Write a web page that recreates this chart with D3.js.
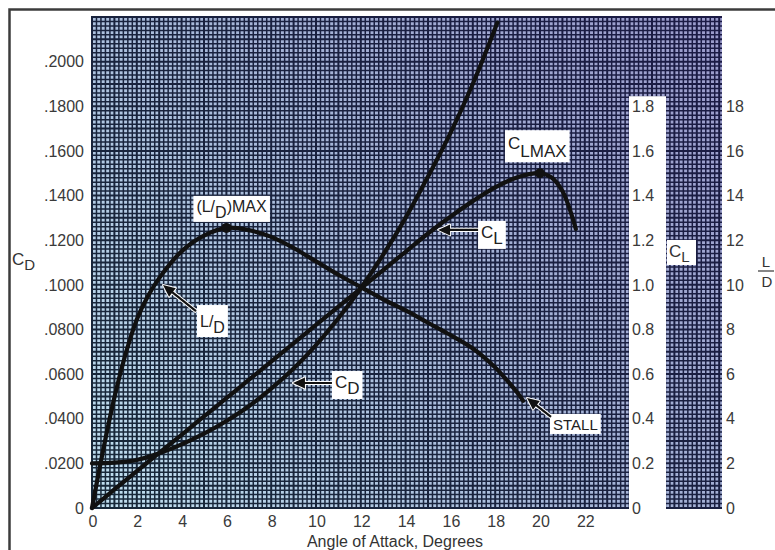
<!DOCTYPE html>
<html>
<head>
<meta charset="utf-8">
<script src="https://cdn.jsdelivr.net/npm/d3@7"></script>
<style>
  html, body { margin: 0; padding: 0; background: #fff; overflow: hidden; }
  svg { display: block; font-family: "Liberation Sans", Arial, sans-serif; }
</style>
</head>
<body>
<svg id="chart" width="775" height="550"></svg>
<script>
// ---------------- Data ----------------
// lift coefficient vs angle of attack
const clAlpha  = [0, 1, 2, 3, 4, 5, 6, 7, 8, 9, 10, 11, 12, 13, 14, 15, 16, 17, 18, 19, 20, 20.5, 21, 21.6];
const clValues = [0, 0.083, 0.165, 0.247, 0.328, 0.41, 0.492, 0.574, 0.656, 0.738, 0.82, 0.902, 0.984, 1.066, 1.148, 1.23, 1.305, 1.375, 1.437, 1.482, 1.50, 1.482, 1.42, 1.25];

// drag coefficient
const cdAlpha  = [0, 1, 2, 3, 4, 5, 6, 7, 8, 9, 10, 11, 12, 13, 14, 15, 16, 17, 18.1];
const cdValues = [0.0200, 0.0203, 0.0215, 0.0245, 0.0285, 0.0333, 0.0390, 0.0456, 0.0535, 0.0625, 0.0730, 0.0850, 0.0985, 0.1135, 0.1300, 0.1485, 0.1680, 0.1900, 0.2175];

// lift / drag ratio
const ldAlpha  = [0, 0.5, 1, 1.5, 2, 2.5, 3, 4, 5, 6, 7, 8, 9, 10, 11, 12, 13, 14, 15, 16, 17, 18, 18.5, 19, 19.25];
const ldValues = [0, 2.6, 4.95, 6.9, 8.45, 9.5, 10.3, 11.5, 12.2, 12.55, 12.45, 12.15, 11.65, 11.05, 10.45, 9.9, 9.35, 8.85, 8.3, 7.75, 7.15, 6.3, 5.75, 5.15, 4.8];

// tick labels
const xTicks   = [0, 2, 4, 6, 8, 10, 12, 14, 16, 18, 20, 22];
const cdTicks  = [0, 0.02, 0.04, 0.06, 0.08, 0.10, 0.12, 0.14, 0.16, 0.18, 0.20];
const clTicks  = [0, 0.2, 0.4, 0.6, 0.8, 1.0, 1.2, 1.4, 1.6, 1.8];
const ldTicks  = [0, 2, 4, 6, 8, 10, 12, 14, 16, 18];

// ---------------- Scales ----------------
const svg = d3.select("#chart");

const plotLeft = 92, plotBottom = 508, plotTop = 17;
const x   = d3.scaleLinear().domain([0, 24]).range([plotLeft, 629.6]);
const yCD = d3.scaleLinear().domain([0, 0.22]).range([plotBottom, plotTop]);
const yCL = d3.scaleLinear().domain([0, 2.2]).range([plotBottom, plotTop]);
const yLD = d3.scaleLinear().domain([0, 22]).range([plotBottom, plotTop]);

const gridRight = 722;   // grid continues past the CL label strip
const stripLeft = 629, stripRight = 666;

// ---------------- Frame ----------------
svg.append("rect")
  .attr("x", 9.5).attr("y", 9.5)
  .attr("width", 820).attr("height", 620)
  .attr("fill", "none")
  .attr("stroke", "#3c3c3c")
  .attr("stroke-width", 2.5);

// ---------------- Graph paper ----------------
const defs = svg.append("defs");
const bg = defs.append("linearGradient")
  .attr("id", "paper")
  .attr("gradientUnits", "userSpaceOnUse")
  .attr("x1", plotLeft).attr("y1", plotBottom)
  .attr("x2", gridRight).attr("y2", 16);
bg.append("stop").attr("offset", 0).attr("stop-color", "#c0e0f0");
bg.append("stop").attr("offset", 0.5).attr("stop-color", "#a6b6d8");
bg.append("stop").attr("offset", 1).attr("stop-color", "#9a9acb");

const ink = defs.append("linearGradient")
  .attr("id", "ink")
  .attr("gradientUnits", "userSpaceOnUse")
  .attr("x1", plotLeft).attr("y1", plotBottom)
  .attr("x2", gridRight).attr("y2", 16);
ink.append("stop").attr("offset", 0).attr("stop-color", "#172838");
ink.append("stop").attr("offset", 1).attr("stop-color", "#1b1a45");

defs.append("clipPath").attr("id", "gridClip")
  .append("rect")
  .attr("x", plotLeft - 1).attr("y", 16)
  .attr("width", gridRight - plotLeft + 1).attr("height", plotBottom - 16 + 1);

const grid = svg.append("g").attr("clip-path", "url(#gridClip)");
grid.append("rect")
  .attr("x", plotLeft - 1).attr("y", 16)
  .attr("width", gridRight - plotLeft + 1).attr("height", plotBottom - 16 + 1)
  .attr("fill", "url(#paper)");

const vLines = d3.range(0, 141).map(i => i / 5);      // every 0.2 degree
const hLines = d3.range(0, 111).map(i => i / 500);    // every 0.002 CD

grid.append("g")
  .selectAll("line")
  .data(vLines)
  .enter()
  .append("line")
  .attr("x1", d => x(d)).attr("x2", d => x(d))
  .attr("y1", 16).attr("y2", plotBottom + 1)
  .attr("stroke", "url(#ink)")
  .attr("stroke-width", (d, i) => i % 5 === 0 ? 2 : 1.5);

grid.append("g")
  .selectAll("line")
  .data(hLines)
  .enter()
  .append("line")
  .attr("x1", plotLeft - 1).attr("x2", gridRight)
  .attr("y1", d => yCD(d)).attr("y2", d => yCD(d))
  .attr("stroke", "url(#ink)")
  .attr("stroke-width", (d, i) => i % 5 === 0 ? 2 : 1.5);

// white strip holding the CL scale
svg.append("rect")
  .attr("x", stripLeft).attr("y", yCL(1.845))
  .attr("width", stripRight - stripLeft).attr("height", 60 + plotBottom)
  .attr("fill", "#fff");
svg.append("rect")
  .attr("x", plotLeft - 1).attr("y", plotBottom + 1)
  .attr("width", 700).attr("height", 30)
  .attr("fill", "#fff");

// ---------------- Axes labels ----------------
const tickFont = 16;

svg.append("g")
  .selectAll("text")
  .data(cdTicks)
  .enter()
  .append("text")
  .attr("x", 84)
  .attr("y", d => yCD(d))
  .attr("dy", "0.36em")
  .attr("text-anchor", "end")
  .attr("font-size", tickFont)
  .attr("fill", "#3a3a3a")
  .text(d => d === 0 ? "0" : d3.format(".4f")(d).replace(/^0/, ""));

svg.append("g")
  .selectAll("text")
  .data(xTicks)
  .enter()
  .append("text")
  .attr("x", d => x(d) + 1)
  .attr("y", plotBottom + 19)
  .attr("text-anchor", "middle")
  .attr("font-size", tickFont)
  .attr("fill", "#3a3a3a")
  .text(d => d);

svg.append("g")
  .selectAll("text")
  .data(clTicks)
  .enter()
  .append("text")
  .attr("x", stripLeft + 3)
  .attr("y", d => yCL(d))
  .attr("dy", "0.36em")
  .attr("font-size", tickFont)
  .attr("fill", "#3a3a3a")
  .text(d => d === 0 ? "0" : d3.format(".1f")(d));

svg.append("g")
  .selectAll("text")
  .data(ldTicks)
  .enter()
  .append("text")
  .attr("x", gridRight + 4)
  .attr("y", d => yLD(d))
  .attr("dy", "0.36em")
  .attr("font-size", tickFont)
  .attr("fill", "#3a3a3a")
  .text(d => d);

svg.append("text")
  .attr("x", 395)
  .attr("y", 546.5)
  .attr("text-anchor", "middle")
  .attr("font-size", 16)
  .attr("fill", "#333")
  .text("Angle of Attack, Degrees");

// C_D on the left
const cdLabel = svg.append("text")
  .attr("x", 12).attr("y", 265)
  .attr("font-size", 17).attr("fill", "#333");
cdLabel.append("tspan").text("C");
cdLabel.append("tspan").attr("dy", 5).attr("font-size", 15).text("D");

// C_L box on the right grid column
const clBox = svg.append("g");
clBox.append("rect")
  .attr("x", 667).attr("y", 240)
  .attr("width", 29).attr("height", 25)
  .attr("fill", "#fff");
const clLabel = clBox.append("text")
  .attr("x", 669).attr("y", 257)
  .attr("font-size", 17).attr("fill", "#333");
clLabel.append("tspan").text("C");
clLabel.append("tspan").attr("dy", 5).attr("font-size", 15).text("L");

// L over D on the far right
svg.append("text")
  .attr("x", 766).attr("y", 267)
  .attr("text-anchor", "middle")
  .attr("font-size", 15).attr("fill", "#333")
  .text("L");
svg.append("line")
  .attr("x1", 758).attr("x2", 774)
  .attr("y1", 271).attr("y2", 271)
  .attr("stroke", "#444").attr("stroke-width", 1.3);
svg.append("text")
  .attr("x", 767).attr("y", 287)
  .attr("text-anchor", "middle")
  .attr("font-size", 15).attr("fill", "#333")
  .text("D");

// ---------------- Curves ----------------
function curve(xs, ys, yScale) {
  const pts = xs.map((a, i) => [x(a), yScale(ys[i])]);
  return d3.line().curve(d3.curveCatmullRom.alpha(0.5))(pts);
}

const curves = svg.append("g")
  .attr("fill", "none")
  .attr("stroke", "#111")
  .attr("stroke-width", 4.2)
  .attr("stroke-linecap", "round");

curves.append("path").attr("d", curve(cdAlpha, cdValues, yCD));
curves.append("path").attr("d", curve(clAlpha, clValues, yCL));
curves.append("path").attr("d", curve(ldAlpha, ldValues, yLD));

// max markers
const ldMax = { alpha: 6, value: 12.55 };
const clMax = { alpha: 20, value: 1.50 };
svg.append("circle").attr("cx", x(ldMax.alpha)).attr("cy", yLD(ldMax.value)).attr("r", 5).attr("fill", "#111");
svg.append("circle").attr("cx", x(clMax.alpha)).attr("cy", yCL(clMax.value)).attr("r", 5).attr("fill", "#111");

// ---------------- Annotations ----------------
function arrowPath(x1, y1, x2, y2) {
  const len = Math.hypot(x2 - x1, y2 - y1);
  const ux = (x2 - x1) / len, uy = (y2 - y1) / len;
  const px = -uy, py = ux;
  const head = 12, hw = 5.5, sw = 1.1;
  const bx = x2 - ux * head, by = y2 - uy * head;
  const p = [
    [x1 + px * sw, y1 + py * sw],
    [bx + px * sw, by + py * sw],
    [bx + px * hw, by + py * hw],
    [x2, y2],
    [bx - px * hw, by - py * hw],
    [bx - px * sw, by - py * sw],
    [x1 - px * sw, y1 - py * sw]
  ];
  return "M" + p.map(d => d.join(",")).join("L") + "Z";
}

// parts: [text, shift] ; shift = vertical offset for subscripts
const notes = [
  { tip: [x(ldMax.alpha), yLD(ldMax.value)], tail: null, text: [-30, -16],
    parts: [["(L/", 0], ["D", 6], [")MAX", 0]], size: 16, padTop: 2 },
  { tip: [x(3.17), yLD(9.99)], tail: [33, 26], text: [37, 42],
    parts: [["L/", 0], ["D", 6]], size: 16, padTop: 8 },
  { tip: [x(8.97), yCD(0.056)], tail: [39, 0], text: [42, 5],
    parts: [["C", 0], ["D", 6]], size: 17, padTop: 2 },
  { tip: [x(15.45), yCL(1.246)], tail: [40, 0], text: [43, 8],
    parts: [["C", 0], ["L", 6]], size: 17, padTop: 2 },
  { tip: [x(clMax.alpha), yCL(clMax.value)], tail: null, text: [-32, -24],
    parts: [["C", 0], ["L", 8], ["MAX", 8]], size: 17, padTop: 4 },
  { tip: [x(19.42), yLD(4.93)], tail: [24, 19], text: [26, 32],
    parts: [["STALL", 0]], size: 15, padTop: 2 }
];

notes.forEach(n => {
  const g = svg.append("g");
  const box = g.append("rect").attr("fill", "#fff");
  const t = g.append("text")
    .attr("x", n.tip[0] + n.text[0])
    .attr("y", n.tip[1] + n.text[1])
    .attr("font-size", n.size)
    .attr("fill", "#222");
  let prev = 0;
  n.parts.forEach(([s, shift]) => {
    t.append("tspan").attr("dy", shift - prev).text(s);
    prev = shift;
  });
  const bb = t.node().getBBox();
  box.attr("x", bb.x - 3).attr("y", bb.y - n.padTop)
    .attr("width", bb.width + 6).attr("height", bb.height + n.padTop + 1);

  if (n.tail) {
    svg.append("path")
      .attr("d", arrowPath(n.tip[0] + n.tail[0], n.tip[1] + n.tail[1], n.tip[0], n.tip[1]))
      .attr("fill", "#111")
      .attr("stroke", "#fff")
      .attr("stroke-width", 2)
      .attr("stroke-linejoin", "round")
      .attr("paint-order", "stroke");
  }
});
</script>
</body>
</html>
